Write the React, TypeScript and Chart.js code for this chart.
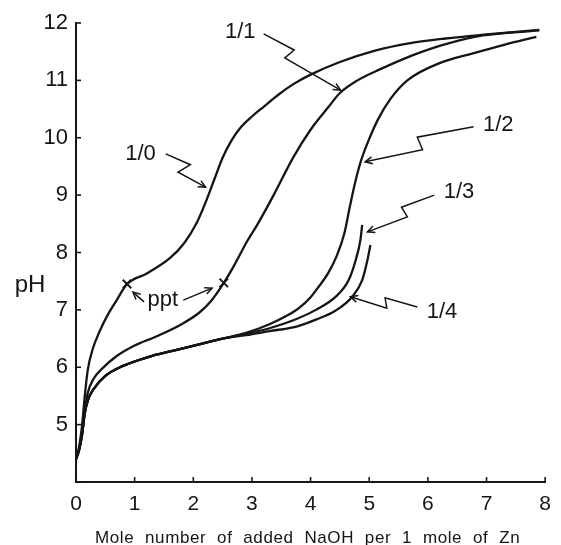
import React, { useEffect, useRef } from "react";
import { Chart, registerables } from "chart.js";
Chart.register(...registerables);

// ---------- data ----------
const xTickValues = [0, 1, 2, 3, 4, 5, 6, 7, 8];
const yTickValues = [4, 5, 6, 7, 8, 9, 10, 11, 12];
const yTickHidden = [4];

const seriesNames = ["1/0", "1/1", "1/2", "1/3", "1/4"];

const r10X = [0, 0.05, 0.1, 0.15, 0.2, 0.28, 0.4, 0.55, 0.7, 0.87, 1.2, 1.6, 1.85, 2.05, 2.2, 2.35, 2.5, 2.65, 2.8, 3.0, 3.2, 3.45, 3.7, 4.0, 4.5, 5.1, 5.7, 6.3, 7.0, 7.9];
const r10Y = [4.4, 4.6, 4.95, 5.5, 5.95, 6.3, 6.62, 6.93, 7.18, 7.45, 7.63, 7.9, 8.17, 8.5, 8.85, 9.25, 9.65, 9.95, 10.17, 10.37, 10.54, 10.75, 10.93, 11.1, 11.32, 11.52, 11.65, 11.73, 11.8, 11.88];

const r11X = [0, 0.05, 0.1, 0.15, 0.2, 0.3, 0.45, 0.7, 1.0, 1.4, 1.8, 2.1, 2.3, 2.52, 2.7, 2.92, 3.1, 3.37, 3.7, 4.0, 4.3, 4.5, 4.8, 5.2, 5.6, 6.2, 6.8, 7.9];
const r11Y = [4.4, 4.55, 4.85, 5.25, 5.55, 5.8, 5.98, 6.2, 6.38, 6.55, 6.75, 6.95, 7.15, 7.47, 7.78, 8.2, 8.5, 9.0, 9.65, 10.14, 10.53, 10.78, 11.0, 11.2, 11.38, 11.6, 11.76, 11.87];

const r12X = [0, 0.05, 0.1, 0.15, 0.2, 0.3, 0.5, 0.75, 1.0, 1.3, 1.7, 2.1, 2.5, 2.9, 3.3, 3.6, 3.8, 4.0, 4.15, 4.3, 4.45, 4.58, 4.67, 4.76, 4.86, 5.0, 5.15, 5.35, 5.65, 6.2, 6.8, 7.3, 7.85];
const r12Y = [4.4, 4.55, 4.8, 5.2, 5.42, 5.62, 5.85, 6.0, 6.1, 6.2, 6.3, 6.4, 6.5, 6.6, 6.75, 6.9, 7.03, 7.22, 7.42, 7.64, 7.95, 8.35, 8.8, 9.22, 9.6, 9.98, 10.32, 10.66, 11.0, 11.3, 11.48, 11.62, 11.76];

const r13X = [0, 0.05, 0.1, 0.15, 0.2, 0.3, 0.5, 0.75, 1.0, 1.3, 1.7, 2.1, 2.5, 2.9, 3.3, 3.76, 4.09, 4.43, 4.65, 4.77, 4.85, 4.88];
const r13Y = [4.4, 4.55, 4.8, 5.2, 5.42, 5.62, 5.85, 6.0, 6.1, 6.2, 6.3, 6.4, 6.5, 6.58, 6.68, 6.84, 7.0, 7.23, 7.52, 7.87, 8.22, 8.48];

const r14X = [0, 0.05, 0.1, 0.15, 0.2, 0.3, 0.5, 0.75, 1.0, 1.3, 1.7, 2.1, 2.5, 2.9, 3.3, 3.76, 4.09, 4.43, 4.71, 4.88, 4.97, 5.02];
const r14Y = [4.4, 4.55, 4.8, 5.2, 5.42, 5.62, 5.85, 6.0, 6.1, 6.2, 6.3, 6.4, 6.5, 6.56, 6.63, 6.71, 6.83, 6.99, 7.23, 7.52, 7.87, 8.13];

const pptX = [0.87, 2.52];
const pptY = [7.45, 7.47];

// annotation texts and anchor (data coords)
const noteTexts = ["1/0", "1/1", "1/2", "1/3", "1/4", "ppt"];
const noteX = [1.1, 2.8, 7.2, 6.53, 6.24, 1.48];
const noteY = [9.72, 11.84, 10.22, 9.06, 6.97, 7.17];

// leader polylines (data coords), last point is arrow tip
const leaders: number[][][] = [
  [[1.53, 9.72], [1.95, 9.53], [1.74, 9.4], [2.21, 9.14]],
  [[3.2, 11.81], [3.72, 11.53], [3.56, 11.39], [4.51, 10.83]],
  [[6.78, 10.19], [5.82, 10.01], [5.91, 9.79], [4.93, 9.58]],
  [[6.11, 9.0], [5.55, 8.79], [5.65, 8.62], [4.97, 8.36]],
  [[5.82, 7.05], [5.27, 7.21], [5.3, 7.03], [4.68, 7.23]],
  [[1.16, 7.14], [0.97, 7.31]],
  [[1.83, 7.17], [2.32, 7.38]],
];

const xTitle = "Mole number of added NaOH per 1 mole of Zn";
const yTitle = "pH";

// ---------- styles ----------
const INK = "#151515";
const FONT = '"Liberation Sans", Arial, sans-serif';

const toPts = (xs: number[], ys: number[]) => xs.map((v, i) => ({ x: v, y: ys[i] }));

const decorPlugin = {
  id: "decor",
  afterDraw(chart: any) {
    const { ctx, chartArea } = chart;
    const xs = chart.scales.x;
    const ys = chart.scales.y;
    ctx.save();
    ctx.strokeStyle = INK;
    ctx.fillStyle = INK;
    ctx.lineWidth = 1.6;
    // inward ticks
    xTickValues.forEach((v) => {
      const px = xs.getPixelForValue(v);
      ctx.beginPath();
      ctx.moveTo(px, chartArea.bottom);
      ctx.lineTo(px, chartArea.bottom - 5);
      ctx.stroke();
    });
    yTickValues.forEach((v) => {
      const py = ys.getPixelForValue(v);
      ctx.beginPath();
      ctx.moveTo(chartArea.left, py);
      ctx.lineTo(chartArea.left + 5, py);
      ctx.stroke();
    });
    // y title (horizontal)
    ctx.font = `24px ${FONT}`;
    ctx.textAlign = "center";
    ctx.textBaseline = "middle";
    ctx.fillText(yTitle, chartArea.left - 46, ys.getPixelForValue(7.42));
    // x title
    ctx.font = `17px ${FONT}`;
    (ctx as any).wordSpacing = "5.5px";
    (ctx as any).letterSpacing = "0.6px";
    ctx.fillText(xTitle, (chartArea.left + chartArea.right) / 2 - 3, chartArea.bottom + 56);
    (ctx as any).wordSpacing = "0px";
    (ctx as any).letterSpacing = "0px";
    // notes
    ctx.font = `22px ${FONT}`;
    noteTexts.forEach((t, i) => {
      ctx.fillText(t, xs.getPixelForValue(noteX[i]), ys.getPixelForValue(noteY[i]));
    });
    // leaders with arrowheads
    ctx.lineWidth = 1.5;
    leaders.forEach((pts) => {
      const p = pts.map(([a, b]) => [xs.getPixelForValue(a), ys.getPixelForValue(b)]);
      ctx.beginPath();
      ctx.moveTo(p[0][0], p[0][1]);
      for (let i = 1; i < p.length; i++) ctx.lineTo(p[i][0], p[i][1]);
      ctx.stroke();
      const [tx, ty] = p[p.length - 1];
      const [fx, fy] = p[p.length - 2];
      const ang = Math.atan2(ty - fy, tx - fx);
      const L = 8;
      ctx.beginPath();
      ctx.moveTo(tx - L * Math.cos(ang - 0.45), ty - L * Math.sin(ang - 0.45));
      ctx.lineTo(tx, ty);
      ctx.lineTo(tx - L * Math.cos(ang + 0.45), ty - L * Math.sin(ang + 0.45));
      ctx.stroke();
    });
    ctx.restore();
  },
};

export default function App() {
  const ref = useRef<HTMLCanvasElement | null>(null);
  useEffect(() => {
    document.body.style.margin = "0";
    const canvas = ref.current!;
    const series = [
      [r10X, r10Y],
      [r11X, r11Y],
      [r12X, r12Y],
      [r13X, r13Y],
      [r14X, r14Y],
    ];
    const datasets: any[] = series.map(([xs, ys], i) => ({
      label: seriesNames[i],
      data: toPts(xs, ys),
      borderColor: INK,
      borderWidth: 2.3,
      pointRadius: 0,
      fill: false,
      cubicInterpolationMode: "monotone",
    }));
    datasets.push({
      label: "ppt",
      data: toPts(pptX, pptY),
      showLine: false,
      pointStyle: "crossRot",
      pointRadius: 6,
      borderColor: INK,
      borderWidth: 2,
    });
    const chart = new Chart(canvas, {
      type: "scatter",
      data: { datasets },
      options: {
        animation: false,
        responsive: false,
        events: [],
        layout: { padding: { left: 0, right: 8, top: 23, bottom: 0 } },
        plugins: { legend: { display: false }, tooltip: { enabled: false } },
        datasets: { scatter: { showLine: true } } as any,
        scales: {
          x: {
            type: "linear",
            min: 0,
            max: 8,
            afterBuildTicks: (s: any) => {
              s.ticks = xTickValues.map((v) => ({ value: v }));
            },
            afterFit: (s: any) => {
              s.height = 63;
            },
            ticks: {
              color: INK,
              font: { family: FONT, size: 21 },
              padding: 10,
              maxRotation: 0,
              autoSkip: false,
            },
            grid: { display: false, drawTicks: false },
            border: { display: true, color: INK, width: 2 },
          },
          y: {
            type: "linear",
            min: 4,
            max: 12,
            afterBuildTicks: (s: any) => {
              s.ticks = yTickValues.map((v) => ({ value: v }));
            },
            afterFit: (s: any) => {
              s.width = 76;
            },
            ticks: {
              color: INK,
              font: { family: FONT, size: 22 },
              padding: 8,
              autoSkip: false,
              callback: (v: any) => (yTickHidden.includes(Number(v)) ? "" : String(v)),
            },
            grid: { display: false, drawTicks: false },
            border: { display: true, color: INK, width: 2 },
          },
        },
      },
      plugins: [decorPlugin],
    });
    return () => chart.destroy();
  }, []);
  return <canvas ref={ref} width={561} height={545} style={{ display: "block" }} />;
}
